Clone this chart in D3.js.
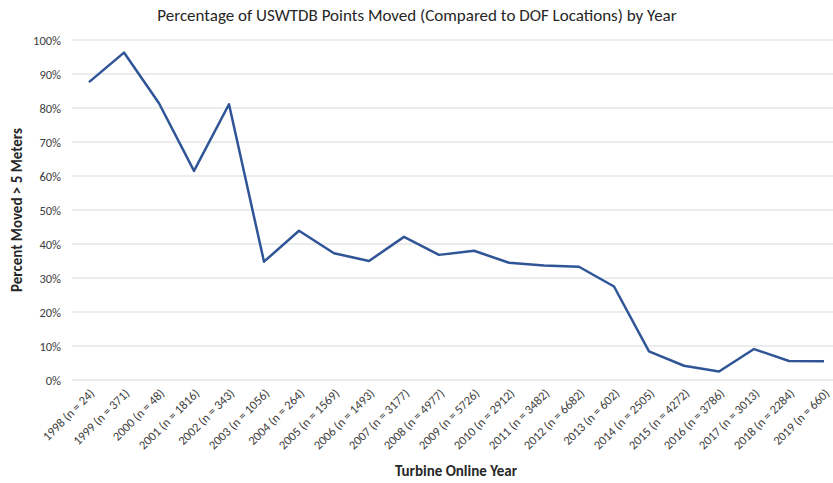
<!DOCTYPE html>
<html>
<head>
<script src="https://d3js.org/d3.v7.min.js"></script>
<style>
body { margin: 0; background: #fff; }
text { font-family: Carlito, Calibri, "Open Sans", sans-serif; }
</style>
</head>
<body>
<script>
// data
var years = ["1998", "1999", "2000", "2001", "2002", "2003", "2004", "2005", "2006", "2007", "2008",
             "2009", "2010", "2011", "2012", "2013", "2014", "2015", "2016", "2017", "2018", "2019"];
var counts = [24, 371, 48, 1816, 343, 1056, 264, 1569, 1493, 3177, 4977,
              5726, 2912, 3482, 6682, 602, 2505, 4272, 3786, 3013, 2284, 660];
var moved = [87.6, 96.3, 81.4, 61.5, 81.1, 34.8, 43.9, 37.3, 35.0, 42.1, 36.8,
             38.0, 34.5, 33.7, 33.3, 27.5, 8.4, 4.2, 2.5, 9.1, 5.6, 5.5];
var yTicks = [0, 10, 20, 30, 40, 50, 60, 70, 80, 90, 100];

var width = 833, height = 483;

var labels = years.map(function(y, i) { return y + " (n = " + counts[i] + ")"; });

var svg = d3.select("body").append("svg")
    .attr("width", width)
    .attr("height", height);

var xScale = d3.scaleBand().domain(labels).range([71.5, 841.5]);
var yScale = d3.scaleLinear().domain([0, 100]).range([380, 40]);

// gridlines
svg.append("g").selectAll("line")
    .data(yTicks)
  .enter().append("line")
    .attr("x1", 72)
    .attr("x2", width)
    .attr("y1", function(d) { return yScale(d); })
    .attr("y2", function(d) { return yScale(d); })
    .attr("stroke", "#d9d9d9")
    .attr("stroke-width", 1);

// y axis labels
var yAxis = d3.axisLeft(yScale)
    .tickValues(yTicks)
    .tickSize(0)
    .tickPadding(0)
    .tickFormat(function(d) { return d + "%"; });

svg.append("g")
    .attr("transform", "translate(61,0)")
    .call(yAxis)
    .call(function(g) { g.select(".domain").remove(); })
    .selectAll("text")
      .style("font-size", "12.5px")
      .style("fill", "#404040");

// x axis labels
var xAxis = d3.axisBottom(xScale).tickSize(0).tickPadding(0);

svg.append("g")
    .attr("transform", "translate(0,386)")
    .call(xAxis)
    .call(function(g) { g.select(".domain").remove(); })
    .selectAll("text")
      .attr("text-anchor", "end")
      .attr("dy", "0.35em")
      .attr("transform", "translate(3,5) rotate(-45)")
      .style("font-size", "12.5px")
      .style("fill", "#404040");

// line
var line = d3.line()
    .x(function(d, i) { return xScale(labels[i]) + xScale.bandwidth() / 2; })
    .y(function(d) { return yScale(d); });

svg.append("path")
    .datum(moved)
    .attr("d", line)
    .attr("fill", "none")
    .attr("stroke", "#2f5597")
    .attr("stroke-width", 2.5)
    .attr("stroke-linejoin", "round");

// title
svg.append("text")
    .attr("x", 417)
    .attr("y", 21)
    .attr("text-anchor", "middle")
    .style("font-size", "17px")
    .style("fill", "#262626")
    .text("Percentage of USWTDB Points Moved (Compared to DOF Locations) by Year");

// axis titles
svg.append("text")
    .attr("x", 456)
    .attr("y", 476)
    .attr("text-anchor", "middle")
    .style("font-size", "15px")
    .style("font-weight", "bold")
    .style("fill", "#262626")
    .text("Turbine Online Year");

svg.append("text")
    .attr("transform", "translate(22,210) rotate(-90)")
    .attr("text-anchor", "middle")
    .style("font-size", "15px")
    .style("font-weight", "bold")
    .style("fill", "#262626")
    .text("Percent Moved > 5 Meters");
</script>
</body>
</html>
